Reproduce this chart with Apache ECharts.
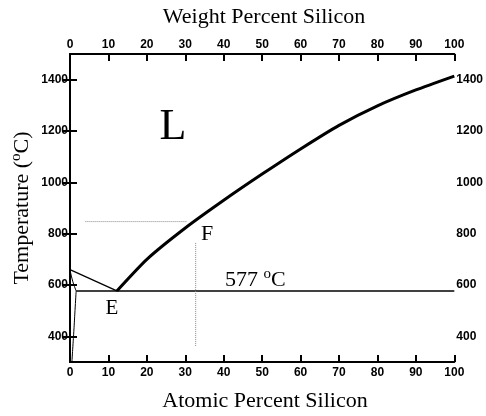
<!DOCTYPE html>
<html>
<head>
<meta charset="utf-8">
<script src="https://cdn.jsdelivr.net/npm/echarts@6/dist/echarts.min.js"></script>
<style>html,body{margin:0;padding:0;background:#fff}#c{width:486px;height:416px}</style>
</head>
<body>
<div id="c"></div>
<script>
// Liquidus on Si side (atomic % Si, temperature °C)
const liqX = [12.2, 20, 30, 40, 50, 60, 70, 80, 90, 100];
const liqT = [577, 700, 822, 930, 1032, 1130, 1222, 1298, 1360, 1414];
// Liquidus on Al side
const alLiqX = [0, 12.2];
const alLiqT = [660, 577];
// Eutectic isotherm
const eutX = [1.6, 100];
const eutT = [577, 577];
// Al solidus and solvus
const solX = [0, 0.7, 1.6];
const solT = [660, 615, 577];
const solvX = [1.6, 1.3, 1.0, 0.7, 0.5];
const solvT = [577, 500, 420, 350, 300];
// Dotted guide lines at point F
const fHX = [4, 30.5];
const fHT = [847, 847];
const fVX = [32.7, 32.7];
const fVT = [764, 358];
// Tick labels
const xTicks = [0, 10, 20, 30, 40, 50, 60, 70, 80, 90, 100];
const yTicks = [400, 600, 800, 1000, 1200, 1400];

const zip = (a, b) => a.map((v, i) => [v, b[i]]);
const serif = '"Liberation Serif", "Times New Roman", serif';
const sans = '"Liberation Sans", Arial, sans-serif';

const chart = echarts.init(document.getElementById('c'), null, {renderer: 'canvas'});

const xAxisBase = (pos) => ({
  type: 'value', position: pos, min: 0, max: 100, interval: 10,
  axisLine: {show: true, lineStyle: {color: '#000', width: 2}},
  axisTick: {show: true, inside: true, length: 7, lineStyle: {color: '#000', width: 2}, customValues: xTicks},
  axisLabel: {show: true, color: '#000', fontFamily: sans, fontWeight: 'bold', fontSize: 12, margin: pos === 'top' ? 3 : 5,
    customValues: xTicks, formatter: (v) => String(v)},
  splitLine: {show: false}
});
const yAxisBase = (pos) => ({
  type: 'value', position: pos, min: 300, max: 1500,
  axisLine: {show: true, lineStyle: {color: '#000', width: 2}},
  axisTick: {show: true, inside: true, length: 7, lineStyle: {color: '#000', width: 2}, customValues: yTicks},
  axisLabel: {show: true, color: '#000', fontFamily: sans, fontWeight: 'bold', fontSize: 12, margin: 2,
    customValues: yTicks, formatter: (v) => String(v)},
  splitLine: {show: false}
});

const lineSeries = (data, width, type, color, smooth) => ({
  type: 'line', data: data, showSymbol: false, symbol: 'none', smooth: smooth || false,
  lineStyle: {color: color || '#000', width: width, type: type || 'solid'},
  silent: true, animation: false
});

const supRich = {
  b: {fontSize: 22, fontFamily: serif, lineHeight: 24, verticalAlign: 'bottom'},
  s: {fontSize: 15, fontFamily: serif, lineHeight: 15, verticalAlign: 'top'}
};

chart.setOption({
  animation: false,
  grid: {left: 70, right: 29, top: 54, bottom: 54, containLabel: false},
  xAxis: [xAxisBase('bottom'), xAxisBase('top')],
  yAxis: [yAxisBase('left'), yAxisBase('right')],
  series: [
    lineSeries(zip(liqX, liqT), 3, 'solid', '#000', 0.2),
    lineSeries(zip(alLiqX, alLiqT), 1.3),
    lineSeries(zip(eutX, eutT), 1.5),
    lineSeries(zip(solX, solT), 1, 'solid', '#000', true),
    lineSeries(zip(solvX, solvT), 1, 'solid', '#000', true),
    lineSeries(zip(fHX, fHT), 1, 'dotted', '#888'),
    lineSeries(zip(fVX, fVT), 1, 'dotted', '#888')
  ],
  graphic: [
    {type: 'text', x: 264, y: 17, style: {text: 'Weight Percent Silicon', font: '22px ' + serif, fill: '#000', align: 'center', verticalAlign: 'middle'}},
    {type: 'text', x: 265, y: 401, style: {text: 'Atomic Percent Silicon', font: '22px ' + serif, fill: '#000', align: 'center', verticalAlign: 'middle'}},
    {type: 'text', x: 21, y: 208, rotation: Math.PI / 2, style: {
      text: '{b|Temperature (}{s|o}{b|C)}', fill: '#000', align: 'center', verticalAlign: 'middle', rich: supRich
    }},
    {type: 'text', x: 173, y: 127, style: {text: 'L', font: '44px ' + serif, fill: '#000', align: 'center', verticalAlign: 'middle'}},
    {type: 'text', x: 207, y: 234, style: {text: 'F', font: '22px ' + serif, fill: '#000', align: 'center', verticalAlign: 'middle'}},
    {type: 'text', x: 112, y: 308, style: {text: 'E', font: '21px ' + serif, fill: '#000', align: 'center', verticalAlign: 'middle'}},
    {type: 'text', x: 225, y: 279, style: {
      text: '{b|577 }{s|o}{b|C}', fill: '#000', align: 'left', verticalAlign: 'middle', rich: supRich
    }}
  ]
});
</script>
</body>
</html>
